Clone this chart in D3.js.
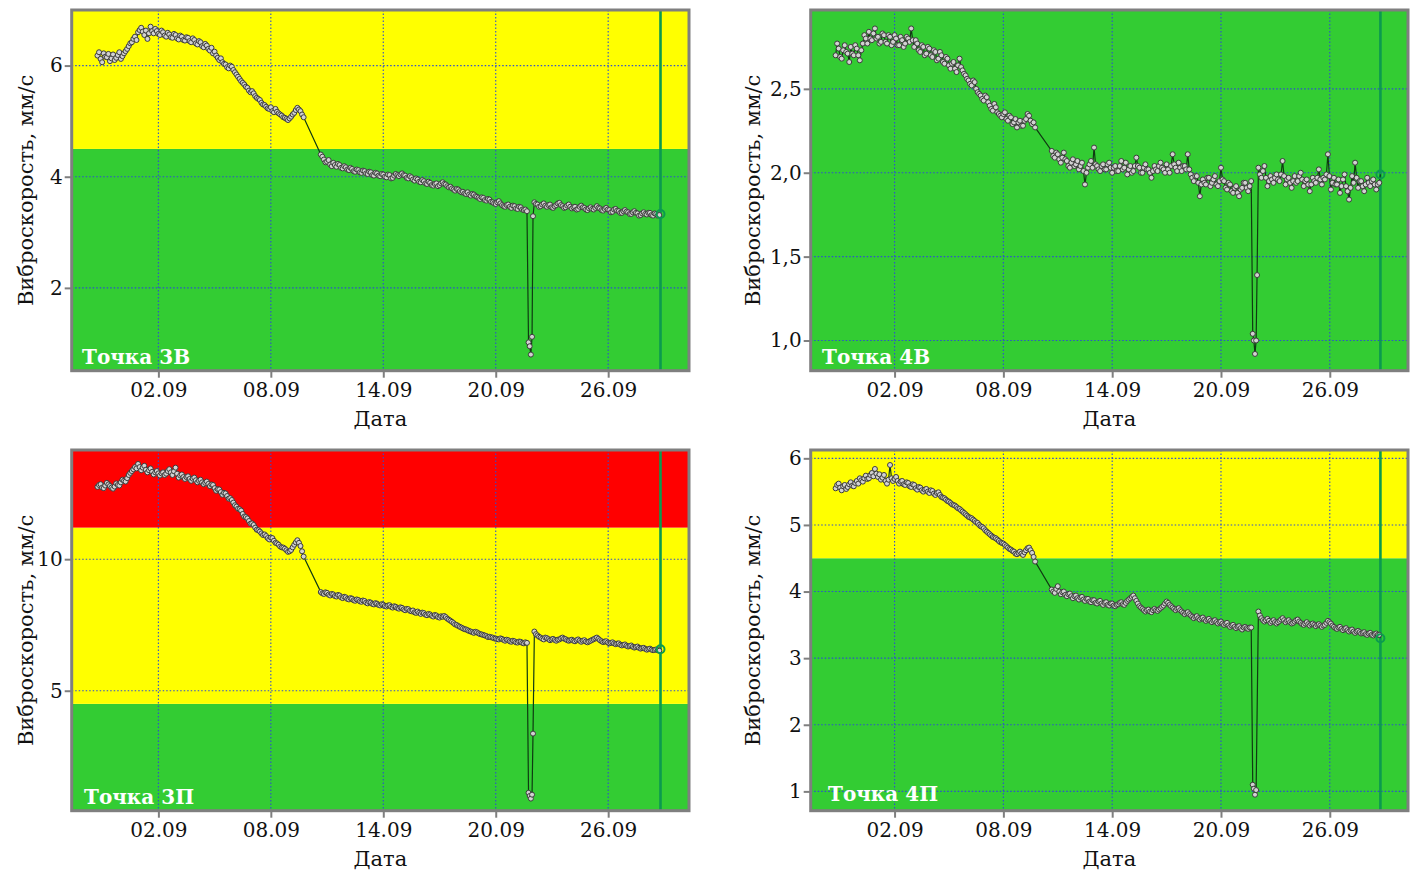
<!DOCTYPE html>
<html>
<head>
<meta charset="utf-8">
<script src="https://cdn.jsdelivr.net/npm/d3@7"></script>
<style>
  body { margin: 0; background: #fff; }
  svg { display: block; }
  text { font-family: "DejaVu Serif", serif; fill: #111; }
</style>
</head>
<body>
<svg id="chart" width="1413" height="872"></svg>
<script>
// Sampling: three regular runs (every 2 hours), a short dip and the current reading
const stepHours = 2;
const runStarts = ["2023-08-29T18:00", "2023-09-10T16:00", "2023-09-22T01:30"];
const dipTimes = ["2023-09-21T18:00", "2023-09-21T19:30", "2023-09-21T21:00", "2023-09-21T22:30", "2023-09-21T23:45"];
const lastTime = "2023-09-28T19:00";
const xDomain = ["2023-08-28T09:00", "2023-09-30T07:30"];
const xTickDates = ["2023-09-02", "2023-09-08", "2023-09-14", "2023-09-20", "2023-09-26"];

// Zone limits, mm/s (green / yellow / red)
const zoneLimits = [4.5, 11.2];
const zoneColors = ["#33cc33", "#ffff00", "#ff0000"];

// Точка 3В
const p3B_run1 = [6.18, 6.24, 6.12, 6.06, 6.22, 6.16, 6.15, 6.21, 6.08, 6.13,
  6.20, 6.10, 6.14, 6.19, 6.24, 6.12, 6.17, 6.22, 6.26, 6.30,
  6.35, 6.40, 6.42, 6.48, 6.52, 6.46, 6.60, 6.64, 6.68, 6.61,
  6.55, 6.63, 6.48, 6.58, 6.70, 6.62, 6.58, 6.66, 6.62, 6.57,
  6.55, 6.63, 6.60, 6.54, 6.52, 6.59, 6.56, 6.51, 6.50, 6.57,
  6.55, 6.49, 6.47, 6.54, 6.52, 6.46, 6.45, 6.51, 6.50, 6.44,
  6.42, 6.49, 6.46, 6.40, 6.38, 6.44, 6.42, 6.35, 6.33, 6.39,
  6.36, 6.30, 6.27, 6.32, 6.22, 6.25, 6.18, 6.14, 6.10, 6.13,
  6.06, 6.03, 6.02, 5.97, 5.95, 6.00, 5.98, 5.92, 5.88, 5.84,
  5.80, 5.76, 5.72, 5.69, 5.66, 5.62, 5.60, 5.55, 5.52, 5.54,
  5.50, 5.45, 5.42, 5.40, 5.38, 5.33, 5.30, 5.29, 5.26, 5.23,
  5.22, 5.25, 5.18, 5.16, 5.22, 5.17, 5.14, 5.12, 5.10, 5.07,
  5.06, 5.04, 5.02, 5.05, 5.08, 5.12, 5.15, 5.20, 5.24, 5.21,
  5.18, 5.12, 5.07];
const p3B_run2 = [4.40, 4.36, 4.31, 4.26, 4.27, 4.30, 4.22, 4.19, 4.25, 4.21,
  4.18, 4.23, 4.21, 4.16, 4.15, 4.19, 4.17, 4.13, 4.12, 4.16,
  4.14, 4.10, 4.09, 4.13, 4.12, 4.08, 4.07, 4.11, 4.10, 4.06,
  4.05, 4.09, 4.08, 4.03, 4.02, 4.07, 4.06, 4.02, 4.01, 4.05,
  4.04, 4.00, 3.99, 4.04, 4.03, 3.97, 3.98, 4.02, 4.05, 4.03,
  4.01, 4.04, 4.06, 4.03, 4.02, 3.98, 3.97, 4.01, 3.99, 3.95,
  3.93, 3.97, 3.95, 3.91, 3.90, 3.94, 3.92, 3.88, 3.87, 3.91,
  3.89, 3.85, 3.84, 3.87, 3.88, 3.83, 3.85, 3.88, 3.90, 3.87,
  3.86, 3.83, 3.81, 3.82, 3.79, 3.77, 3.75, 3.78, 3.77, 3.74,
  3.72, 3.73, 3.70, 3.69, 3.72, 3.68, 3.66, 3.69, 3.68, 3.65,
  3.64, 3.62, 3.60, 3.63, 3.62, 3.58, 3.57, 3.60, 3.59, 3.55,
  3.54, 3.52, 3.51, 3.54, 3.56, 3.52, 3.49, 3.47, 3.46, 3.49,
  3.50, 3.46, 3.44, 3.48, 3.47, 3.43, 3.42, 3.46, 3.45, 3.41,
  3.40, 3.41, 3.38];
const p3B_dip = [1.02, 0.95, 0.80, 1.12, 3.29];
const p3B_run3 = [3.54, 3.51, 3.50, 3.46, 3.47, 3.50, 3.52, 3.48, 3.46, 3.49,
  3.50, 3.45, 3.44, 3.47, 3.49, 3.52, 3.53, 3.49, 3.47, 3.44,
  3.45, 3.48, 3.50, 3.46, 3.43, 3.45, 3.46, 3.41, 3.42, 3.46,
  3.48, 3.45, 3.44, 3.41, 3.40, 3.43, 3.45, 3.42, 3.41, 3.44,
  3.47, 3.44, 3.43, 3.40, 3.39, 3.42, 3.44, 3.41, 3.40, 3.36,
  3.37, 3.41, 3.42, 3.39, 3.38, 3.35, 3.35, 3.38, 3.40, 3.37,
  3.36, 3.33, 3.33, 3.36, 3.38, 3.35, 3.34, 3.30, 3.31, 3.34,
  3.36, 3.33, 3.32, 3.35, 3.35, 3.31, 3.30, 3.34, 3.33, 3.30,
  3.31];
const p3B_last = 3.33;

// Точка 4В
const p4B_run1 = [2.70, 2.77, 2.74, 2.69, 2.68, 2.73, 2.76, 2.72, 2.71, 2.66,
  2.75, 2.71, 2.70, 2.76, 2.74, 2.70, 2.67, 2.73, 2.77, 2.82,
  2.80, 2.77, 2.84, 2.80, 2.79, 2.83, 2.86, 2.80, 2.81, 2.77,
  2.78, 2.83, 2.82, 2.78, 2.77, 2.82, 2.81, 2.76, 2.78, 2.82,
  2.80, 2.76, 2.76, 2.81, 2.79, 2.75, 2.77, 2.81, 2.80, 2.78,
  2.86, 2.79, 2.75, 2.79, 2.77, 2.73, 2.72, 2.76, 2.75, 2.70,
  2.71, 2.75, 2.74, 2.70, 2.69, 2.73, 2.72, 2.67, 2.68, 2.72,
  2.70, 2.66, 2.65, 2.69, 2.68, 2.64, 2.62, 2.65, 2.66, 2.62,
  2.60, 2.64, 2.68, 2.63, 2.61, 2.59, 2.58, 2.56, 2.55, 2.53,
  2.52, 2.55, 2.54, 2.50, 2.48, 2.47, 2.46, 2.44, 2.43, 2.46,
  2.45, 2.42, 2.40, 2.38, 2.37, 2.41, 2.39, 2.36, 2.35, 2.34,
  2.33, 2.35, 2.36, 2.32, 2.31, 2.34, 2.33, 2.29, 2.30, 2.32,
  2.27, 2.30, 2.31, 2.28, 2.28, 2.31, 2.32, 2.35, 2.34, 2.31,
  2.29, 2.30, 2.27];
const p4B_run2 = [2.13, 2.10, 2.09, 2.12, 2.11, 2.08, 2.06, 2.09, 2.12, 2.08,
  2.07, 2.04, 2.03, 2.06, 2.08, 2.04, 2.05, 2.07, 2.02, 2.04,
  2.06, 2.01, 1.93, 2.00, 2.03, 2.05, 2.07, 2.03, 2.15, 2.05,
  2.04, 2.02, 2.01, 2.04, 2.05, 2.02, 2.02, 2.05, 2.06, 2.03,
  2.00, 2.03, 2.04, 2.01, 2.01, 2.04, 2.07, 2.02, 2.03, 2.06,
  1.99, 2.02, 2.04, 2.00, 2.01, 2.04, 2.09, 2.04, 2.03, 2.00,
  2.00, 2.03, 2.05, 2.02, 2.02, 2.00, 1.97, 2.01, 2.04, 2.02,
  2.01, 2.04, 2.06, 2.03, 2.02, 2.00, 2.05, 2.02, 2.00, 2.04,
  2.11, 2.05, 2.03, 2.01, 2.06, 2.03, 2.01, 2.04, 2.04, 2.02,
  2.11, 2.02, 1.99, 1.97, 1.95, 1.98, 1.98, 1.94, 1.86, 1.93,
  1.96, 1.94, 1.93, 1.97, 1.97, 1.92, 1.94, 1.96, 1.98, 1.93,
  1.92, 1.95, 2.03, 1.96, 1.95, 1.91, 1.90, 1.94, 1.93, 1.89,
  1.88, 1.91, 1.92, 1.88, 1.86, 1.90, 1.91, 1.94, 1.94, 1.91,
  1.89, 1.92, 1.95];
const p4B_dip = [1.04, 1.00, 0.92, 1.00, 1.39];
const p4B_run3 = [2.03, 1.99, 1.97, 2.01, 2.04, 1.97, 1.92, 1.95, 1.98, 1.96,
  1.94, 1.97, 1.99, 1.96, 1.95, 1.99, 2.07, 1.98, 1.93, 1.96,
  1.97, 1.94, 1.91, 1.95, 1.98, 1.94, 1.95, 1.98, 2.00, 1.96,
  1.92, 1.95, 1.96, 1.93, 1.89, 1.93, 1.97, 1.95, 1.94, 1.97,
  2.02, 1.96, 1.93, 1.97, 1.96, 1.99, 2.11, 1.98, 1.90, 1.94,
  1.97, 1.93, 1.93, 1.96, 1.88, 1.92, 1.96, 1.99, 1.92, 1.89,
  1.84, 1.91, 1.98, 1.94, 2.06, 1.97, 1.91, 1.95, 1.95, 1.92,
  1.89, 1.93, 1.97, 1.94, 1.92, 1.95, 1.96, 1.93, 1.90, 1.93,
  1.94];
const p4B_last = 1.99;

// Точка 3П
const p3P_run1 = [12.75, 12.82, 12.85, 12.72, 12.70, 12.80, 12.90, 12.84, 12.78, 12.72,
  12.68, 12.76, 12.88, 12.82, 12.80, 12.92, 13.02, 12.98, 12.95, 13.08,
  13.20, 13.28, 13.35, 13.42, 13.50, 13.45, 13.62, 13.50, 13.38, 13.48,
  13.55, 13.40, 13.30, 13.38, 13.45, 13.32, 13.22, 13.30, 13.35, 13.26,
  13.18, 13.26, 13.30, 13.20, 13.25, 13.35, 13.42, 13.30, 13.20, 13.34,
  13.48, 13.25, 13.10, 13.18, 13.22, 13.12, 13.05, 13.12, 13.15, 13.05,
  12.98, 13.06, 13.10, 13.00, 12.92, 12.98, 13.02, 12.92, 12.85, 12.90,
  12.95, 12.86, 12.78, 12.84, 12.82, 12.70, 12.60, 12.66, 12.65, 12.55,
  12.45, 12.52, 12.50, 12.40, 12.30, 12.32, 12.25, 12.15, 12.05, 12.00,
  11.92, 11.90, 11.85, 11.72, 11.62, 11.60, 11.55, 11.45, 11.35, 11.36,
  11.30, 11.20, 11.12, 11.10, 11.05, 10.98, 10.92, 10.94, 10.88, 10.80,
  10.75, 10.82, 10.80, 10.70, 10.62, 10.60, 10.55, 10.48, 10.45, 10.44,
  10.40, 10.34, 10.28, 10.30, 10.35, 10.45, 10.55, 10.64, 10.72, 10.62,
  10.50, 10.30, 10.10];
const p3P_run2 = [8.75, 8.70, 8.68, 8.74, 8.72, 8.65, 8.62, 8.68, 8.66, 8.60,
  8.58, 8.64, 8.62, 8.55, 8.52, 8.57, 8.55, 8.49, 8.47, 8.52,
  8.50, 8.44, 8.42, 8.47, 8.45, 8.40, 8.38, 8.43, 8.41, 8.35,
  8.32, 8.37, 8.35, 8.30, 8.28, 8.33, 8.31, 8.26, 8.24, 8.29,
  8.27, 8.22, 8.20, 8.24, 8.25, 8.19, 8.16, 8.21, 8.19, 8.14,
  8.12, 8.17, 8.15, 8.09, 8.06, 8.11, 8.10, 8.04, 8.02, 8.05,
  7.98, 7.96, 8.01, 7.96, 7.92, 7.97, 7.95, 7.89, 7.87, 7.92,
  7.90, 7.85, 7.82, 7.88, 7.86, 7.80, 7.78, 7.83, 7.81, 7.84,
  7.80, 7.74, 7.70, 7.66, 7.62, 7.57, 7.52, 7.50, 7.46, 7.43,
  7.40, 7.37, 7.34, 7.33, 7.30, 7.27, 7.25, 7.23, 7.20, 7.24,
  7.22, 7.18, 7.15, 7.14, 7.12, 7.10, 7.08, 7.04, 7.05, 7.03,
  7.02, 6.99, 6.98, 6.96, 6.95, 6.99, 6.97, 6.93, 6.90, 6.94,
  6.92, 6.88, 6.86, 6.90, 6.88, 6.84, 6.83, 6.87, 6.86, 6.82,
  6.80, 6.84, 6.82];
const p3P_dip = [1.12, 1.00, 0.90, 1.05, 3.37];
const p3P_run3 = [7.25, 7.15, 7.10, 7.05, 7.02, 6.98, 6.95, 7.02, 7.00, 6.96,
  6.92, 6.95, 6.97, 6.93, 6.90, 6.94, 6.95, 6.99, 7.02, 6.98,
  6.96, 6.92, 6.90, 6.92, 6.94, 6.90, 6.88, 6.92, 6.95, 6.90,
  6.86, 6.90, 6.92, 6.87, 6.84, 6.87, 6.90, 6.93, 6.96, 6.99,
  7.02, 6.97, 6.92, 6.88, 6.85, 6.87, 6.88, 6.83, 6.80, 6.82,
  6.84, 6.80, 6.77, 6.79, 6.80, 6.75, 6.72, 6.74, 6.76, 6.71,
  6.68, 6.70, 6.72, 6.67, 6.64, 6.66, 6.68, 6.63, 6.60, 6.62,
  6.63, 6.59, 6.56, 6.58, 6.60, 6.56, 6.54, 6.55, 6.57, 6.54,
  6.52];
const p3P_last = 6.58;

// Точка 4П
const p4P_run1 = [5.55, 5.60, 5.62, 5.56, 5.52, 5.58, 5.60, 5.54, 5.57, 5.61,
  5.64, 5.59, 5.58, 5.63, 5.66, 5.62, 5.70, 5.67, 5.65, 5.70,
  5.74, 5.69, 5.70, 5.75, 5.78, 5.73, 5.84, 5.77, 5.72, 5.76,
  5.68, 5.71, 5.75, 5.66, 5.62, 5.68, 5.90, 5.70, 5.66, 5.69,
  5.72, 5.66, 5.62, 5.65, 5.66, 5.61, 5.60, 5.64, 5.63, 5.58,
  5.57, 5.61, 5.60, 5.55, 5.53, 5.57, 5.56, 5.52, 5.50, 5.53,
  5.54, 5.50, 5.48, 5.52, 5.51, 5.47, 5.45, 5.48, 5.49, 5.45,
  5.42, 5.41, 5.40, 5.38, 5.36, 5.35, 5.33, 5.31, 5.30, 5.29,
  5.27, 5.25, 5.24, 5.22, 5.20, 5.18, 5.16, 5.14, 5.12, 5.11,
  5.10, 5.08, 5.06, 5.04, 5.03, 5.00, 4.98, 4.97, 4.95, 4.92,
  4.90, 4.88, 4.86, 4.84, 4.82, 4.81, 4.80, 4.78, 4.76, 4.74,
  4.73, 4.72, 4.70, 4.68, 4.66, 4.64, 4.63, 4.61, 4.60, 4.57,
  4.56, 4.58, 4.60, 4.57, 4.55, 4.59, 4.62, 4.65, 4.66, 4.62,
  4.58, 4.52, 4.45];
const p4P_run2 = [4.03, 4.00, 3.98, 4.04, 4.08, 4.00, 3.96, 3.99, 4.00, 3.95,
  3.93, 3.96, 3.97, 3.93, 3.90, 3.93, 3.94, 3.90, 3.88, 3.91,
  3.92, 3.88, 3.86, 3.89, 3.89, 3.85, 3.84, 3.87, 3.87, 3.83,
  3.82, 3.85, 3.86, 3.82, 3.80, 3.83, 3.84, 3.80, 3.79, 3.82,
  3.82, 3.79, 3.78, 3.80, 3.81, 3.83, 3.84, 3.81, 3.80, 3.83,
  3.86, 3.88, 3.90, 3.92, 3.94, 3.90, 3.86, 3.82, 3.78, 3.76,
  3.74, 3.72, 3.70, 3.72, 3.73, 3.70, 3.69, 3.72, 3.74, 3.72,
  3.71, 3.73, 3.75, 3.77, 3.79, 3.82, 3.85, 3.83, 3.80, 3.78,
  3.76, 3.74, 3.72, 3.74, 3.75, 3.72, 3.70, 3.68, 3.66, 3.68,
  3.69, 3.66, 3.64, 3.62, 3.60, 3.62, 3.63, 3.60, 3.58, 3.60,
  3.61, 3.58, 3.56, 3.58, 3.59, 3.56, 3.54, 3.56, 3.57, 3.54,
  3.52, 3.54, 3.55, 3.52, 3.50, 3.52, 3.53, 3.49, 3.47, 3.49,
  3.50, 3.47, 3.45, 3.47, 3.48, 3.45, 3.43, 3.46, 3.47, 3.45,
  3.44, 3.46, 3.46];
const p4P_dip = [1.10, 1.04, 0.95, 1.02, null];
const p4P_run3 = [3.70, 3.64, 3.60, 3.57, 3.55, 3.57, 3.59, 3.56, 3.53, 3.55,
  3.57, 3.54, 3.52, 3.54, 3.56, 3.58, 3.60, 3.57, 3.54, 3.56,
  3.57, 3.54, 3.52, 3.53, 3.55, 3.57, 3.58, 3.55, 3.53, 3.51,
  3.50, 3.52, 3.54, 3.51, 3.49, 3.51, 3.52, 3.50, 3.48, 3.50,
  3.51, 3.49, 3.47, 3.49, 3.50, 3.53, 3.56, 3.54, 3.52, 3.49,
  3.47, 3.45, 3.44, 3.46, 3.47, 3.44, 3.42, 3.44, 3.45, 3.42,
  3.40, 3.42, 3.43, 3.40, 3.38, 3.40, 3.41, 3.39, 3.37, 3.38,
  3.39, 3.36, 3.35, 3.37, 3.38, 3.35, 3.34, 3.36, 3.37, 3.35,
  3.35];
const p4P_last = 3.30;

// Axis ranges and ticks per panel
const p3B_yDomain = [0.51, 7.0],   p3B_yTicks = [2, 4, 6];
const p4B_yDomain = [0.82, 2.97],  p4B_yTicks = [1.0, 1.5, 2.0, 2.5];
const p3P_yDomain = [0.44, 14.15], p3P_yTicks = [5, 10];
const p4P_yDomain = [0.71, 6.125], p4P_yTicks = [1, 2, 3, 4, 5, 6];

const parseT = d3.timeParse("%Y-%m-%dT%H:%M");
const parseD = d3.timeParse("%Y-%m-%d");
const ru = d3.formatLocale({ decimal: ",", thousands: "\u00a0", grouping: [3], currency: ["", " ₽"] });

function buildSeries(run1, run2, dip, run3) {
  const pts = [];
  [run1, run2, run3].forEach((vals, r) => {
    const t0 = parseT(runStarts[r]);
    vals.forEach((v, i) => pts.push({ t: d3.timeHour.offset(t0, i * stepHours), v }));
    if (r === 1) dip.forEach((v, j) => { if (v != null) pts.push({ t: parseT(dipTimes[j]), v }); });
  });
  return pts;
}

const panels = [
  { name: "Точка 3В", series: buildSeries(p3B_run1, p3B_run2, p3B_dip, p3B_run3), last: p3B_last,
    yDomain: p3B_yDomain, yTicks: p3B_yTicks, fmt: ru.format("d"),
    box: { x0: 71.7, x1: 689, y0: 10, y1: 370.7 }, titleOff: 39, labelPos: [82, 364] },
  { name: "Точка 4В", series: buildSeries(p4B_run1, p4B_run2, p4B_dip, p4B_run3), last: p4B_last,
    yDomain: p4B_yDomain, yTicks: p4B_yTicks, fmt: ru.format(".1f"),
    box: { x0: 810.7, x1: 1408, y0: 10, y1: 370.7 }, titleOff: 51, labelPos: [822, 364] },
  { name: "Точка 3П", series: buildSeries(p3P_run1, p3P_run2, p3P_dip, p3P_run3), last: p3P_last,
    yDomain: p3P_yDomain, yTicks: p3P_yTicks, fmt: ru.format("d"),
    box: { x0: 71.7, x1: 689, y0: 450, y1: 810.7 }, titleOff: 39, labelPos: [84, 804] },
  { name: "Точка 4П", series: buildSeries(p4P_run1, p4P_run2, p4P_dip, p4P_run3), last: p4P_last,
    yDomain: p4P_yDomain, yTicks: p4P_yTicks, fmt: ru.format("d"),
    box: { x0: 810.7, x1: 1408, y0: 450, y1: 810.7 }, titleOff: 51, labelPos: [828, 801] }
];

const svg = d3.select("#chart");
const GRID = "#2f4fcf";
const FRAME = "#7f7f7f";
const lastT = parseT(lastTime);

panels.forEach((p, idx) => {
  const b = p.box;
  const x = d3.scaleTime().domain(xDomain.map(parseT)).range([b.x0, b.x1]);
  const y = d3.scaleLinear().domain(p.yDomain).range([b.y1, b.y0]);
  const g = svg.append("g");

  const clipId = "clip" + idx;
  svg.append("clipPath").attr("id", clipId)
    .append("rect").attr("x", b.x0).attr("y", b.y0).attr("width", b.x1 - b.x0).attr("height", b.y1 - b.y0);
  const plot = g.append("g").attr("clip-path", `url(#${clipId})`);

  // coloured zones
  const edges = [p.yDomain[0], ...zoneLimits, p.yDomain[1]];
  zoneColors.forEach((c, i) => {
    const lo = Math.max(edges[i], p.yDomain[0]);
    const hi = Math.min(edges[i + 1], p.yDomain[1]);
    if (hi <= lo) return;
    plot.append("rect").attr("x", b.x0).attr("width", b.x1 - b.x0)
      .attr("y", y(hi)).attr("height", y(lo) - y(hi)).attr("fill", c);
  });

  // dotted grid
  const xTicks = xTickDates.map(parseD);
  plot.selectAll(".vg").data(xTicks).join("line")
    .attr("x1", d => x(d)).attr("x2", d => x(d)).attr("y1", b.y0).attr("y2", b.y1)
    .attr("stroke", GRID).attr("stroke-width", 1.1).attr("stroke-dasharray", "1.5,2");
  plot.selectAll(".hg").data(p.yTicks).join("line")
    .attr("x1", b.x0).attr("x2", b.x1).attr("y1", d => y(d)).attr("y2", d => y(d))
    .attr("stroke", GRID).attr("stroke-width", 1.1).attr("stroke-dasharray", "1.5,2");

  // current-time marker line
  plot.append("line").attr("x1", x(lastT)).attr("x2", x(lastT)).attr("y1", b.y0).attr("y2", b.y1)
    .attr("stroke", "#0b9a4f").attr("stroke-width", 2.6);

  // trend line and readings
  const all = [...p.series, { t: lastT, v: p.last }];
  plot.append("path").datum(all)
    .attr("d", d3.line().x(d => x(d.t)).y(d => y(d.v)))
    .attr("fill", "none").attr("stroke", "#0f3a12").attr("stroke-width", 1.2);
  plot.selectAll(".pt").data(p.series).join("circle")
    .attr("cx", d => x(d.t)).attr("cy", d => y(d.v)).attr("r", 2.5)
    .attr("fill", "#d2d2d2").attr("stroke", "#3c3c3c").attr("stroke-width", 1);
  plot.append("circle").attr("cx", x(lastT)).attr("cy", y(p.last)).attr("r", 4)
    .attr("fill", "none").attr("stroke", "#0b9a4f").attr("stroke-width", 2);

  // frame
  g.append("rect").attr("x", b.x0).attr("y", b.y0).attr("width", b.x1 - b.x0).attr("height", b.y1 - b.y0)
    .attr("fill", "none").attr("stroke", FRAME).attr("stroke-width", 3);

  // axes
  const ax = g.append("g").attr("transform", `translate(0,${b.y1})`)
    .call(d3.axisBottom(x).tickValues(xTicks).tickFormat(d3.timeFormat("%d.%m")).tickSize(7).tickPadding(5));
  const ay = g.append("g").attr("transform", `translate(${b.x0},0)`)
    .call(d3.axisLeft(y).tickValues(p.yTicks).tickFormat(p.fmt).tickSize(7).tickPadding(2));
  [ax, ay].forEach(a => {
    a.select(".domain").remove();
    a.selectAll(".tick line").attr("stroke", FRAME).attr("stroke-width", 2);
    a.selectAll(".tick text").attr("fill", "#111").style("font-size", "20px")
      .style("font-family", '"DejaVu Serif", serif');
  });

  // titles
  g.append("text").attr("x", (b.x0 + b.x1) / 2).attr("y", b.y1 + 55)
    .attr("text-anchor", "middle").style("font-size", "21px").text("Дата");
  g.append("text")
    .attr("transform", `translate(${b.x0 - p.titleOff},${(b.y0 + b.y1) / 2}) rotate(-90)`)
    .attr("text-anchor", "middle").style("font-size", "21px").text("Виброскорость, мм/с");

  // point name
  g.append("text").attr("x", p.labelPos[0]).attr("y", p.labelPos[1])
    .style("font-size", "20px").style("font-weight", "bold").style("fill", "#fff").text(p.name);
});
</script>
</body>
</html>
